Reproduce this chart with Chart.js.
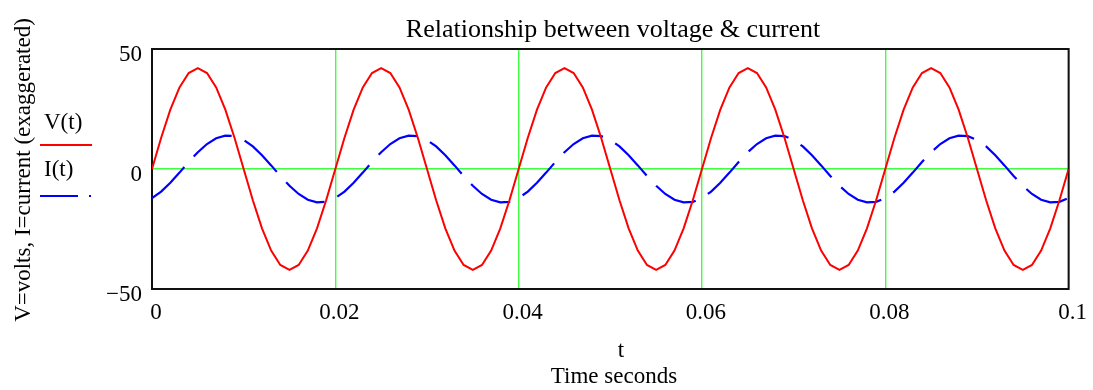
<!DOCTYPE html>
<html>
<head>
<meta charset="utf-8">
<script src="https://cdn.jsdelivr.net/npm/chart.js@4.4.1/dist/chart.umd.min.js"></script>
<style>
  html, body { margin: 0; padding: 0; background: #fff; }
  #wrap { width: 1093px; height: 390px; }
</style>
</head>
<body>
<div id="wrap"><canvas id="c" width="1093" height="390"></canvas></div>
<script>
// time samples (seconds)
var tValues = [
  0, 0.001, 0.002, 0.003, 0.004, 0.005, 0.006, 0.007, 0.008, 0.009,
  0.010, 0.011, 0.012, 0.013, 0.014, 0.015, 0.016, 0.017, 0.018, 0.019,
  0.020, 0.021, 0.022, 0.023, 0.024, 0.025, 0.026, 0.027, 0.028, 0.029,
  0.030, 0.031, 0.032, 0.033, 0.034, 0.035, 0.036, 0.037, 0.038, 0.039,
  0.040, 0.041, 0.042, 0.043, 0.044, 0.045, 0.046, 0.047, 0.048, 0.049,
  0.050, 0.051, 0.052, 0.053, 0.054, 0.055, 0.056, 0.057, 0.058, 0.059,
  0.060, 0.061, 0.062, 0.063, 0.064, 0.065, 0.066, 0.067, 0.068, 0.069,
  0.070, 0.071, 0.072, 0.073, 0.074, 0.075, 0.076, 0.077, 0.078, 0.079,
  0.080, 0.081, 0.082, 0.083, 0.084, 0.085, 0.086, 0.087, 0.088, 0.089,
  0.090, 0.091, 0.092, 0.093, 0.094, 0.095, 0.096, 0.097, 0.098, 0.099,
  0.100
]
// V(t) volts
var vValues = [
  0, 13, 24.7, 34, 40, 42, 40, 34, 24.7, 13,
  0, -13, -24.7, -34, -40, -42, -40, -34, -24.7, -13,
  0, 13, 24.7, 34, 40, 42, 40, 34, 24.7, 13,
  0, -13, -24.7, -34, -40, -42, -40, -34, -24.7, -13,
  0, 13, 24.7, 34, 40, 42, 40, 34, 24.7, 13,
  0, -13, -24.7, -34, -40, -42, -40, -34, -24.7, -13,
  0, 13, 24.7, 34, 40, 42, 40, 34, 24.7, 13,
  0, -13, -24.7, -34, -40, -42, -40, -34, -24.7, -13,
  0, 13, 24.7, 34, 40, 42, 40, 34, 24.7, 13,
  0, -13, -24.7, -34, -40, -42, -40, -34, -24.7, -13,
  0
]
// I(t) current (exaggerated)
var iValues = [
  -12.1, -9.4, -5.7, -1.5, 2.9, 7, 10.4, 12.8, 13.9, 13.7,
  12.1, 9.4, 5.7, 1.5, -2.9, -7, -10.4, -12.8, -13.9, -13.7,
  -12.1, -9.4, -5.7, -1.5, 2.9, 7, 10.4, 12.8, 13.9, 13.7,
  12.1, 9.4, 5.7, 1.5, -2.9, -7, -10.4, -12.8, -13.9, -13.7,
  -12.1, -9.4, -5.7, -1.5, 2.9, 7, 10.4, 12.8, 13.9, 13.7,
  12.1, 9.4, 5.7, 1.5, -2.9, -7, -10.4, -12.8, -13.9, -13.7,
  -12.1, -9.4, -5.7, -1.5, 2.9, 7, 10.4, 12.8, 13.9, 13.7,
  12.1, 9.4, 5.7, 1.5, -2.9, -7, -10.4, -12.8, -13.9, -13.7,
  -12.1, -9.4, -5.7, -1.5, 2.9, 7, 10.4, 12.8, 13.9, 13.7,
  12.1, 9.4, 5.7, 1.5, -2.9, -7, -10.4, -12.8, -13.9, -13.7,
  -12.1
]
var xTicks = [0, 0.02, 0.04, 0.06, 0.08, 0.1]
var yTicks = [-50, 0, 50]

var serif = "'Liberation Serif', 'Times New Roman', serif"
var gridGreen = "#40ff40"
var none = "rgba(0,0,0,0)"

function toPoints(ys){
    return tValues.map((t, i)=>{ return {x: t, y: ys[i]} })
}

// border + texts that Mathcad puts around the plot
var decorPlugin = {
    id: "decor",
    beforeDatasetsDraw(chart){
        var a = chart.chartArea
        var ctx = chart.ctx
        ctx.save()
        ctx.strokeStyle = "#111"
        ctx.lineWidth = 2
        ctx.strokeRect(a.left, a.top, a.right - a.left, a.bottom - a.top)
        ctx.restore()
    },
    afterDraw(chart){
        var ctx = chart.ctx
        ctx.save()
        ctx.fillStyle = "#000"
        ctx.textAlign = "center"
        ctx.textBaseline = "alphabetic"
        ctx.font = "26px " + serif
        ctx.fillText("Relationship between voltage & current", 613, 37)
        ctx.font = "23px " + serif
        ctx.fillText("t", 621, 357)
        ctx.fillText("Time seconds", 614, 383)

        // y title
        ctx.save()
        ctx.translate(30, 170)
        ctx.rotate(-Math.PI / 2)
        ctx.fillText("V=volts, I=current (exaggerated)", 0, 0)
        ctx.restore()

        // legend
        ctx.textAlign = "left"
        ctx.fillText("V(t)", 44, 129)
        ctx.fillText("I(t)", 44, 176)
        ctx.lineWidth = 2
        ctx.strokeStyle = "#ff0000"
        ctx.beginPath(); ctx.moveTo(40, 145); ctx.lineTo(92, 145); ctx.stroke()
        ctx.strokeStyle = "#0000ff"
        ctx.beginPath(); ctx.moveTo(40, 196); ctx.lineTo(78, 196); ctx.stroke()
        ctx.beginPath(); ctx.moveTo(89, 196); ctx.lineTo(91, 196); ctx.stroke()
        ctx.restore()
    }
}

new Chart(document.getElementById("c"), {
    type: "line",
    data: {
        datasets: [{
            label: "V(t)",
            data: toPoints(vValues),
            borderColor: "#ff0000",
            borderWidth: 2,
            pointRadius: 0,
            tension: 0,
            fill: false
        }, {
            label: "I(t)",
            data: toPoints(iValues),
            borderColor: "#0000ff",
            borderWidth: 2.2,
            borderDash: [45, 14],
            pointRadius: 0,
            tension: 0,
            fill: false
        }]
    },
    options: {
        responsive: false,
        animation: false,
        layout: {padding: {top: 49, right: 22, bottom: 0, left: 0}},
        scales: {
            x: {
                type: "linear", min: 0, max: 0.1,
                afterBuildTicks: (s)=>{ s.ticks = xTicks.map((v)=>({value: v})) },
                afterFit: (s)=>{ s.height = 101 },
                border: {display: false},
                grid: {drawTicks: false, lineWidth: 1.4, color: [none, gridGreen, gridGreen, gridGreen, gridGreen, gridGreen]},
                ticks: {
                    color: "#000", padding: 10, labelOffset: 4, maxRotation: 0, autoSkip: false,
                    font: {family: serif, size: 23},
                    callback: (v)=> String(v)
                }
            },
            y: {
                min: -50, max: 50,
                afterBuildTicks: (s)=>{ s.ticks = yTicks.map((v)=>({value: v})) },
                afterFit: (s)=>{ s.width = 152 },
                border: {display: false},
                grid: {drawTicks: false, lineWidth: 1.4, color: [none, gridGreen, none]},
                ticks: {
                    color: "#000", padding: 10, labelOffset: 6, autoSkip: false,
                    font: {family: serif, size: 23},
                    callback: (v)=> v < 0 ? "\u2212" + Math.abs(v) : String(v)
                }
            }
        },
        plugins: {legend: {display: false}, title: {display: false}, tooltip: {enabled: false}}
    },
    plugins: [decorPlugin]
})
</script>
</body>
</html>
